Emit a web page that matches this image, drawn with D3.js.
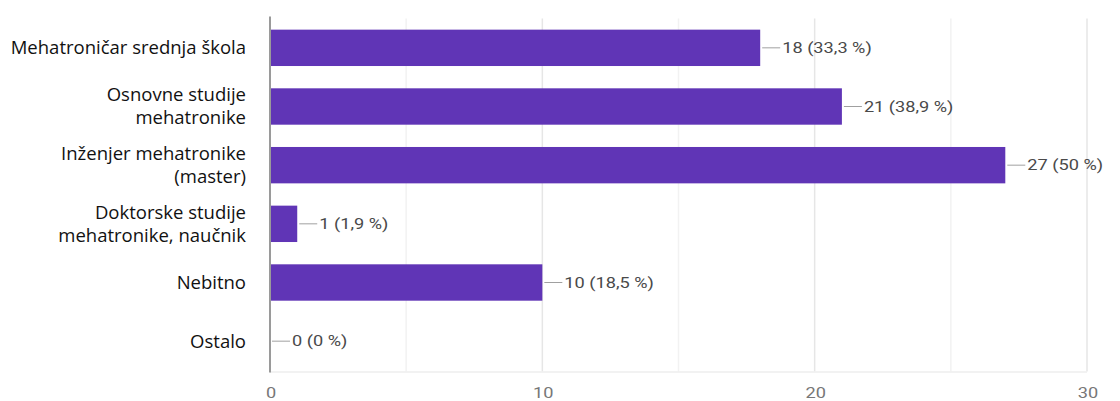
<!DOCTYPE html>
<html>
<head>
<meta charset="utf-8">
<script src="https://cdn.jsdelivr.net/npm/d3@7"></script>
<style>
  html, body { margin: 0; padding: 0; background: #ffffff; }
  svg { display: block; }
</style>
</head>
<body>
<svg id="chart" width="1120" height="401"></svg>
<script>
// Answer categories (label lines) and response counts
const categories = [
  ["Mehatroničar srednja škola"],
  ["Osnovne studije", "mehatronike"],
  ["Inženjer mehatronike", "(master)"],
  ["Doktorske studije", "mehatronike, naučnik"],
  ["Nebitno"],
  ["Ostalo"]
];
const counts = [18, 21, 27, 1, 10, 0];
const percents = ["33,3", "38,9", "50", "1,9", "18,5", "0"];
const majorTicks = [0, 10, 20, 30];
const minorTicks = [5, 15, 25];

const svg = d3.select("#chart");
const margin = { left: 270, right: 33, top: 18.5, bottom: 30.5 };
const W = 1120, H = 401;

const x = d3.scaleLinear().domain([0, 30]).range([margin.left, W - margin.right]);
const y = d3.scaleBand()
  .domain(d3.range(categories.length))
  .range([margin.top, H - margin.bottom])
  .paddingInner(0.38)
  .paddingOuter(0.19);

const purple = "#6035b6";
const textGray = "#4a4a4a";
const stretch = 1.3; // numeric labels are drawn horizontally widened

// grid
svg.append("g").selectAll("line.minor").data(minorTicks).join("line")
  .attr("x1", d => x(d)).attr("x2", d => x(d))
  .attr("y1", margin.top).attr("y2", H - margin.bottom + 1)
  .attr("stroke", "#f2f2f2").attr("stroke-width", 1.5);
svg.append("g").selectAll("line.major").data(majorTicks.slice(1)).join("line")
  .attr("x1", d => x(d)).attr("x2", d => x(d))
  .attr("y1", margin.top).attr("y2", H - margin.bottom + 1)
  .attr("stroke", "#e6e6e6").attr("stroke-width", 1.5);
svg.append("line")
  .attr("x1", x(0)).attr("x2", x(30))
  .attr("y1", H - margin.bottom + 1.5).attr("y2", H - margin.bottom + 1.5)
  .attr("stroke", "#eeeeee").attr("stroke-width", 1.5);

// bars
svg.append("g").selectAll("rect").data(counts).join("rect")
  .attr("x", x(0))
  .attr("y", (d, i) => y(i))
  .attr("width", d => x(d) - x(0))
  .attr("height", y.bandwidth())
  .attr("fill", purple);

// zero axis line
svg.append("line")
  .attr("x1", x(0)).attr("x2", x(0))
  .attr("y1", margin.top - 2).attr("y2", H - margin.bottom + 2)
  .attr("stroke", "#9a9a9a").attr("stroke-width", 2);

// value annotations with leader lines
const ann = svg.append("g").selectAll("g").data(counts).join("g")
  .attr("transform", (d, i) => `translate(${x(d)},${y(i) + y.bandwidth() / 2})`);
ann.append("line")
  .attr("x1", 2).attr("x2", 20).attr("y1", 0).attr("y2", 0)
  .attr("stroke", "#a0a0a0").attr("stroke-width", 1);
ann.append("text")
  .attr("transform", `translate(22,0) scale(${stretch},1)`)
  .attr("dy", "0.36em")
  .attr("font-family", "Roboto, 'Liberation Sans', sans-serif")
  .attr("font-size", 14)
  .attr("fill", textGray)
  .text((d, i) => `${d} (${percents[i]} %)`);

// category labels
const lineH = 23;
const labels = svg.append("g").selectAll("text").data(categories).join("text")
  .attr("text-anchor", "end")
  .attr("font-family", "'Open Sans', 'Noto Sans', sans-serif")
  .attr("font-size", 18.5)
  .attr("fill", "#111");
labels.each(function (lines, i) {
  const cy = y(i) + y.bandwidth() / 2;
  const t = d3.select(this);
  lines.forEach((ln, k) => {
    t.append("tspan")
      .attr("x", 246)
      .attr("y", cy + (k - (lines.length - 1) / 2) * lineH)
      .attr("dy", "0.35em")
      .text(ln);
  });
});

// x axis tick labels
svg.append("g").selectAll("text").data(majorTicks).join("text")
  .attr("transform", d => `translate(${x(d) + 1},393) scale(${stretch},1)`)
  .attr("dy", "0.35em")
  .attr("text-anchor", "middle")
  .attr("font-family", "Roboto, 'Liberation Sans', sans-serif")
  .attr("font-size", 14)
  .attr("fill", "#777")
  .text(d => d);
</script>
</body>
</html>
